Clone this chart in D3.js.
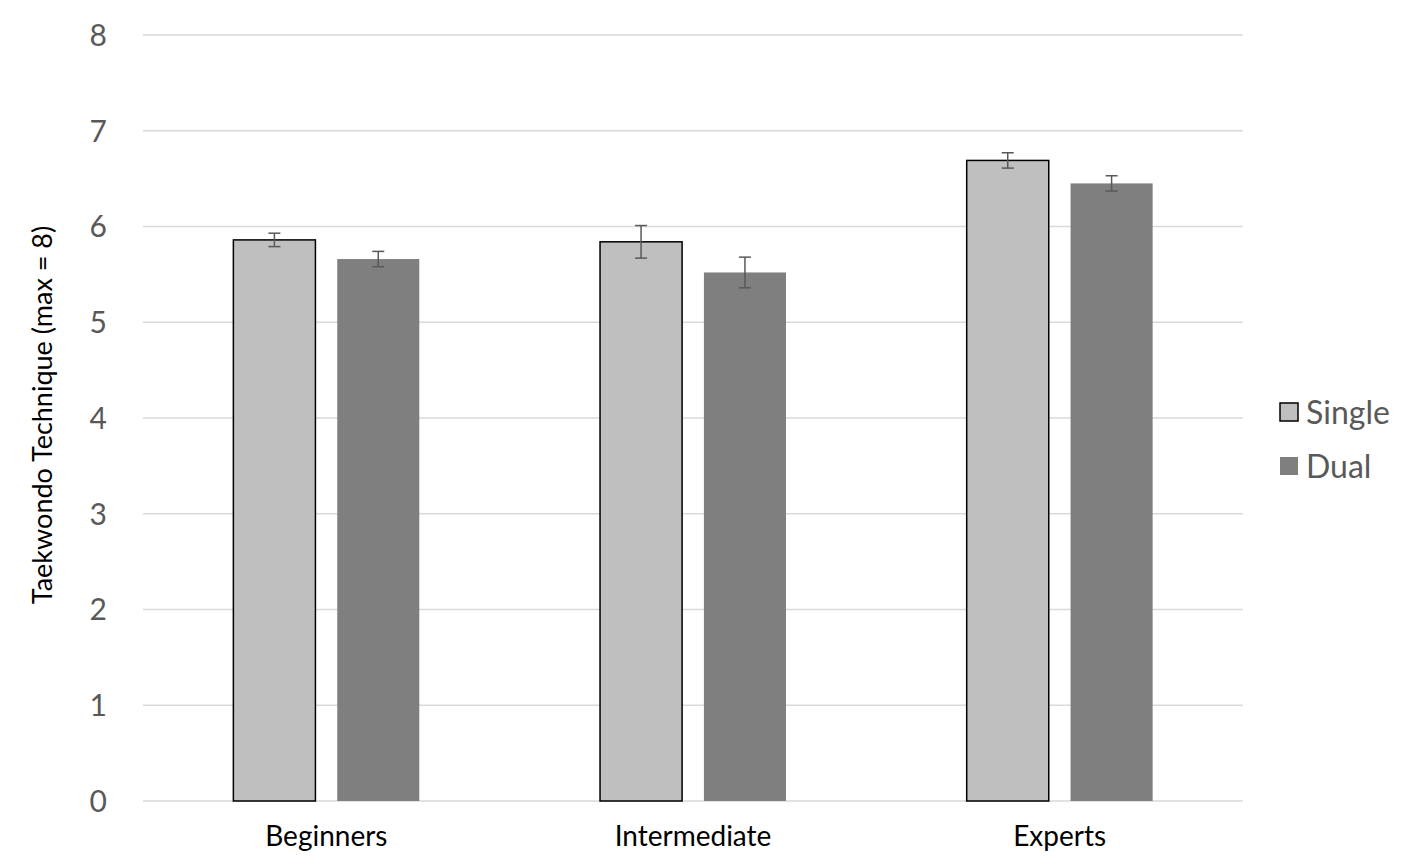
<!DOCTYPE html>
<html>
<head>
<meta charset="utf-8">
<script src="https://cdn.jsdelivr.net/npm/d3@7"></script>
<style>
  body { margin: 0; background: #fff; }
  text { font-family: Lato, "Open Sans", sans-serif; }
</style>
</head>
<body>
<div id="chart"></div>
<script>
// data
const categories = ["Beginners", "Intermediate", "Experts"];
const seriesNames = ["Single", "Dual"];
const singleValues = [5.86, 5.84, 6.69];
const singleErrors = [0.07, 0.17, 0.08];
const dualValues = [5.66, 5.52, 6.45];
const dualErrors = [0.08, 0.16, 0.08];
const yTicks = [0, 1, 2, 3, 4, 5, 6, 7, 8];

const width = 1417, height = 868;
const plot = { left: 143, right: 1243, top: 35, bottom: 801 };

const svg = d3.select("#chart").append("svg")
    .attr("width", width).attr("height", height);

const x = d3.scaleBand().domain(categories)
    .range([plot.left, plot.right]).paddingInner(0).paddingOuter(0);
const xSeries = d3.scaleBand().domain(seriesNames)
    .range([0, x.bandwidth()]).paddingInner(0.21).paddingOuter(0.87);
const y = d3.scaleLinear().domain([0, 8]).range([plot.bottom, plot.top]);

const colors = { Single: "#bfbfbf", Dual: "#7f7f7f" };

// gridlines
svg.append("g").selectAll("line")
    .data(yTicks)
    .join("line")
    .attr("x1", plot.left).attr("x2", plot.right)
    .attr("y1", d => y(d)).attr("y2", d => y(d))
    .attr("stroke", "#d9d9d9").attr("stroke-width", 1.3);

// y tick labels
svg.append("g").selectAll("text")
    .data(yTicks)
    .join("text")
    .attr("x", 107).attr("y", d => y(d))
    .attr("dy", "0.36em")
    .attr("text-anchor", "end")
    .attr("font-size", 30)
    .attr("fill", "#595959")
    .text(d => d);

// y axis title
svg.append("text")
    .attr("transform", `translate(52, ${(plot.top + plot.bottom) / 2 - 3}) rotate(-90)`)
    .attr("text-anchor", "middle")
    .attr("font-size", 27)
    .attr("fill", "#000")
    .text("Taekwondo Technique (max = 8)");

const rows = [];
categories.forEach((c, i) => {
    rows.push({ cat: c, series: "Single", value: singleValues[i], err: singleErrors[i] });
    rows.push({ cat: c, series: "Dual", value: dualValues[i], err: dualErrors[i] });
});

// bars
svg.append("g").selectAll("rect")
    .data(rows)
    .join("rect")
    .attr("x", d => x(d.cat) + xSeries(d.series))
    .attr("width", xSeries.bandwidth())
    .attr("y", d => y(d.value))
    .attr("height", d => y(0) - y(d.value))
    .attr("fill", d => colors[d.series])
    .attr("stroke", d => d.series === "Single" ? "#000" : "none")
    .attr("stroke-width", 1.5);

// error bars
const eb = svg.append("g").attr("stroke", "#595959").attr("stroke-width", 1.5);
rows.forEach(d => {
    const cx = x(d.cat) + xSeries(d.series) + xSeries.bandwidth() / 2;
    const y1 = y(d.value + d.err), y2 = y(d.value - d.err);
    eb.append("line").attr("x1", cx).attr("x2", cx).attr("y1", y1).attr("y2", y2);
    eb.append("line").attr("x1", cx - 6).attr("x2", cx + 6).attr("y1", y1).attr("y2", y1);
    eb.append("line").attr("x1", cx - 6).attr("x2", cx + 6).attr("y1", y2).attr("y2", y2);
});

// category labels
svg.append("g").selectAll("text")
    .data(categories)
    .join("text")
    .attr("x", d => x(d) + x.bandwidth() / 2)
    .attr("y", 846)
    .attr("text-anchor", "middle")
    .attr("font-size", 28)
    .attr("fill", "#000")
    .text(d => d);

// legend
const legend = svg.append("g").selectAll("g")
    .data(seriesNames)
    .join("g")
    .attr("transform", (d, i) => `translate(1280, ${412 + i * 54})`);
legend.append("rect")
    .attr("x", 0).attr("y", -9)
    .attr("width", 18).attr("height", 18)
    .attr("fill", d => colors[d])
    .attr("stroke", d => d === "Single" ? "#000" : "none")
    .attr("stroke-width", 1.5);
legend.append("text")
    .attr("x", 26).attr("dy", "0.36em")
    .attr("font-size", 32)
    .attr("fill", "#595959")
    .text(d => d);
</script>
</body>
</html>
